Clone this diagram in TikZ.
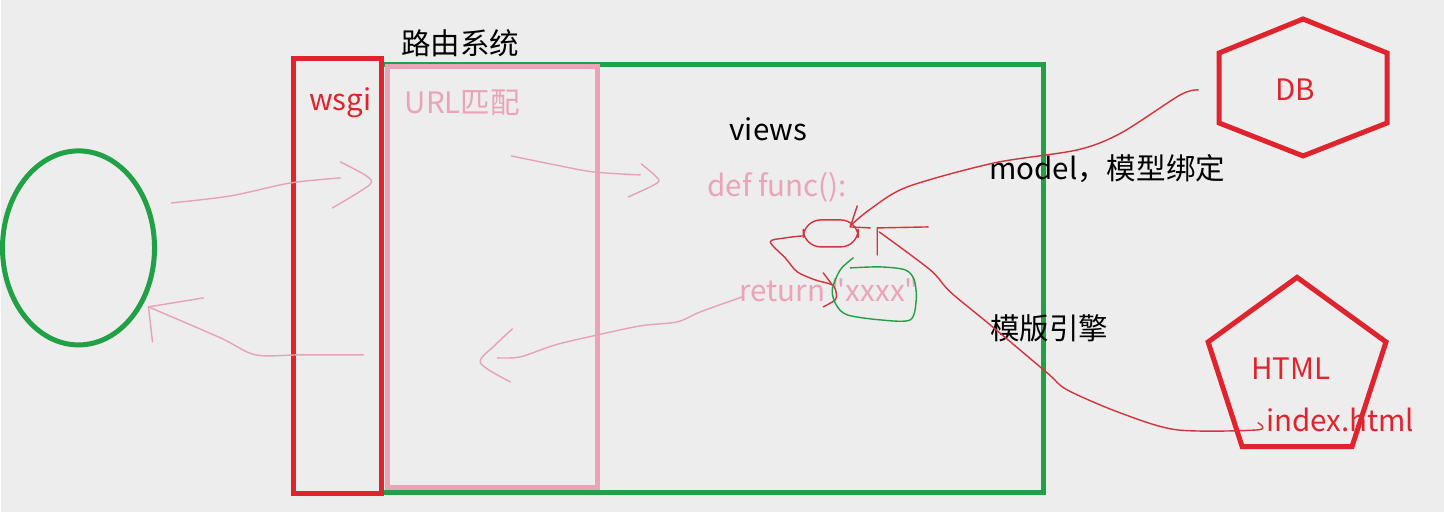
\documentclass[tikz,border=0pt]{standalone}
\usepackage{fontspec}
\setmainfont{Noto Sans CJK SC}
\newfontfamily\codefont{Noto Sans CJK SC}
\usepackage{xcolor}
\usepackage{tikz}
\usetikzlibrary{shapes.geometric}
\definecolor{bg}{HTML}{EDEDED}
\definecolor{wred}{HTML}{E0242D}
\definecolor{wgreen}{HTML}{22A046}
\definecolor{wpink}{HTML}{EBA3B8}
\definecolor{pen}{HTML}{E6A2B6}
\definecolor{rpenc}{HTML}{D2343E}
\tikzset{
  rline/.style={draw=wred, line width=0.05cm},
  gline/.style={draw=wgreen, line width=0.05cm},
  pline/.style={draw=wpink, line width=0.05cm},
  ppen/.style={draw=pen, line width=0.4pt, line cap=round, line join=round},
  rpen/.style={draw=rpenc, line width=0.4pt, line cap=round, line join=round},
  gpen/.style={draw=wgreen, line width=0.4pt, line cap=round, line join=round},
  lbl/.style={inner sep=0pt, font=\fontsize{8.4}{10}\selectfont},
  plbl/.style={lbl, text=wpink},
  rlbl/.style={lbl, text=wred}
}
\begin{document}
\begin{tikzpicture}[x=0.01cm, y=-0.01cm]
  \fill[bg] (0,0) rectangle (1444,512);

  % boxes
  \draw[gline] (381,65) rectangle (1043,493);
  \draw[pline] (387,67) rectangle (597,488);
  \draw[rline] (293,59) rectangle (381,494);
  \node[gline, ellipse, inner sep=0pt, minimum width=1.52cm, minimum height=1.94cm] (client) at (78,248) {};
  \draw[rline] (1303,19) -- (1387,53) -- (1387,123) -- (1303,156) -- (1219,123) -- (1219,53) -- cycle;
  \node[rline, regular polygon, regular polygon sides=5, inner sep=0pt, minimum size=1.87cm] (html) at (1297,371) {};

  % labels
  \node[lbl] (route) at (460,43) {路由系统};
  \node[rlbl] (wsgi) at (340,103) {wsgi};
  \node[plbl] (url) at (462,103) {URL匹配};
  \node[lbl] (views) at (768,129) {views};
  \node[plbl] (func) at (777,187) {def func():};
  \node[plbl] (ret) at (829,290) {\codefont return "xxxx"};
  \node[lbl] (model) at (1107,169) {model，模型绑定};
  \node[lbl] (engine) at (1049,328) {模版引擎};
  \node[rlbl] (db) at (1295,90) {DB};
  \node[rlbl] (htmltext) at (1291,369) {HTML};
  \node[rlbl] (index) at (1340,420) {index.html};

  % request / response strokes
  \draw[ppen] plot[smooth] coordinates {(171,203) (230,196) (290,183) (340,178)};
  \draw[ppen] plot[smooth] coordinates {(340,162) (366,176) (369,185) (332,208)};
  \draw[ppen] plot[smooth] coordinates {(363,355) (300,355) (255,355) (220,338) (148,307)};
  \draw[ppen] (203,298) -- (148,307) -- (152,342);
  \draw[ppen] plot[smooth] coordinates {(511,156) (555,165) (593,172) (640,175)};
  \draw[ppen] plot[smooth] coordinates {(641,164) (655,176) (657,183) (628,197)};
  \draw[ppen] plot[smooth] coordinates {(742,297) (700,312) (677,322) (640,326) (593,336) (555,345) (520,357) (497,358)};
  \draw[ppen] plot[smooth] coordinates {(512,329) (495,345) (480,363) (510,382)};

  % model / template strokes
  \draw[rpen] plot[smooth] coordinates {(1198,90) (1180,95) (1121,133) (1077,150) (994,163) (907,187) (869,210) (850,226)};
  \draw[rpen] (857,206) -- (850,227) -- (870,228);
  \draw[rpen, rounded corners=5] (803,220) rectangle (858,247);
  \draw[rpen] plot[smooth] coordinates {(802,236) (785,238) (770,242) (785,258) (797,272) (815,280) (832,285) (836,293) (835,300) (823,307)};
  \draw[rpen] (823,273) -- (832,285);
  \draw[rpen] plot[smooth] coordinates {(1258,423) (1258,430) (1177,430) (1120,413) (1067,390) (1047,373) (990,325) (950,292) (930,270) (879,232)};
  \draw[rpen] (877,255) -- (877,228) -- (928,227);
  \draw[gpen] plot[smooth] coordinates {(853,258) (840,270) (832,290) (836,305) (847,315) (880,320) (910,320) (916,300) (914,280) (905,270) (880,267) (850,268)};
\end{tikzpicture}
\end{document}
